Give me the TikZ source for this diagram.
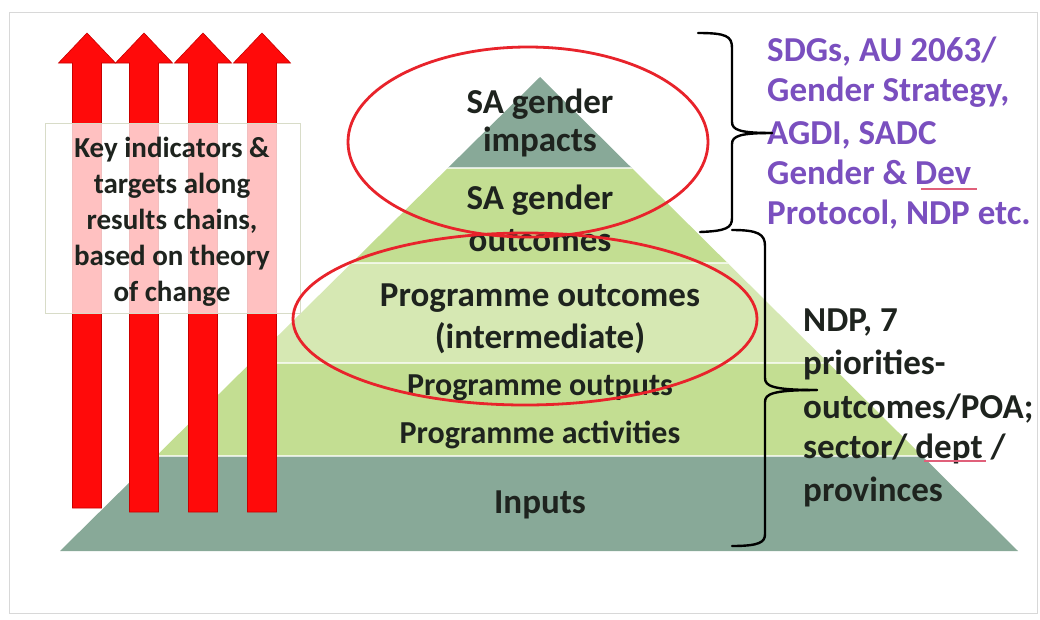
\documentclass[tikz,border=0pt]{standalone}
\usepackage{fontspec}
\setmainfont{Carlito}
\definecolor{darkg}{HTML}{88A998}
\definecolor{midg}{HTML}{C3DE92}
\definecolor{lightg}{HTML}{D6E8B3}
\definecolor{purp}{HTML}{7A4FBF}
\definecolor{arrowred}{HTML}{FF0A0A}
\definecolor{arrowedge}{HTML}{C80000}
\definecolor{ellred}{HTML}{E8232B}
\definecolor{txt}{HTML}{1E231E}
\definecolor{framec}{HTML}{D8D8D8}
\definecolor{boxedge}{HTML}{D8DCC8}
\definecolor{squig}{HTML}{E0607A}
\begin{document}
\begin{tikzpicture}[x=1pt,y=-1pt,
  pyr/.style={font=\bfseries\fontsize{35}{41}\selectfont, text=txt, inner sep=0, anchor=base},
  pyrs/.style={font=\bfseries\fontsize{32}{38}\selectfont, text=txt, inner sep=0, anchor=base},
  keyt/.style={font=\bfseries\fontsize{29}{36}\selectfont, text=txt, inner sep=0, anchor=base},
  purpt/.style={font=\bfseries\fontsize{35}{41}\selectfont, text=purp, inner sep=0, anchor=base west},
  blackt/.style={font=\bfseries\fontsize{35}{41}\selectfont, text=txt, inner sep=0, anchor=base west},
  upArrow/.style={fill=arrowred, draw=arrowedge, line width=0.6},
  ring/.style={draw=ellred, line width=2.8},
  bracket/.style={draw=black, line width=2.4, line cap=round},
  squiggle/.style={draw=squig, line width=1.2}]
\useasboundingbox (0,0) rectangle (1040,619);
\fill[white] (0,0) rectangle (1040,619);
\draw[framec, line width=1] (9,12) rectangle (1037,613);

% pyramid
\coordinate (apex) at (540,77);
\coordinate (bl) at (60,551);
\coordinate (br) at (1018,551);
\begin{scope}
\clip (apex) -- (br) -- (bl) -- cycle;
\fill[darkg] (0,60) rectangle (1040,168);
\fill[midg] (0,168) rectangle (1040,263);
\fill[lightg] (0,263) rectangle (1040,363);
\fill[midg] (0,363) rectangle (1040,456);
\fill[darkg] (0,456) rectangle (1040,552);
\draw[white, line width=1.2, opacity=0.7] (0,168) -- (1040,168) (0,263) -- (1040,263) (0,363) -- (1040,363) (0,456) -- (1040,456);
\end{scope}

% pyramid texts
\node[pyr] (imp1) at (540,113) {SA gender};
\node[pyr] (imp2) at (540,151) {impacts};
\node[pyr] (out1) at (540,209) {SA gender};
\node[pyr] (out2) at (540,251) {outcomes};
\node[pyr] (po1) at (540,306) {Programme outcomes};
\node[pyr] (po2) at (540,348) {(intermediate)};
\node[pyrs] (pout) at (540,395) {Programme outputs};
\node[pyrs] (pact) at (540,443) {Programme activities};
\node[pyr] (inp) at (540,513) {Inputs};

% red arrows
\foreach \c/\b in {87/508,144/512,203/512,262/512}{
  \filldraw[upArrow] (\c-14.5,\b) -- (\c-14.5,63) -- (\c-28.5,63) -- (\c,33) -- (\c+28.5,63) -- (\c+14.5,63) -- (\c+14.5,\b) -- cycle;
}

% key indicators box
\node[draw=boxedge, line width=0.8, fill=white, fill opacity=0.75, minimum width=255pt, minimum height=190pt, inner sep=0] (keybox) at (172.5,218) {};
\node[keyt] (k1) at (172,157) {Key indicators \&};
\node[keyt] (k2) at (172,193) {targets along};
\node[keyt] (k3) at (172,229) {results chains,};
\node[keyt] (k4) at (172,265) {based on theory};
\node[keyt] (k5) at (172,301) {of change};

% ellipses
\draw[ring] (528,142) ellipse [x radius=180pt, y radius=95pt];
\draw[ring] (525,319) ellipse [x radius=232pt, y radius=86pt];

% right texts
\node[purpt] (p1) at (767,61) {SDGs, AU 2063/};
\node[purpt] (p2) at (767,101) {Gender Strategy,};
\node[purpt] (p3) at (767,144) {AGDI, SADC};
\node[purpt] (p4) at (767,184) {Gender \& Dev};
\node[purpt] (p5) at (767,224) {Protocol, NDP etc.};
\node[blackt] (b1) at (803,331) {NDP, 7};
\node[blackt] (b2) at (803,374) {priorities-};
\node[blackt] (b3) at (803,418) {outcomes/POA;};
\node[blackt] (b4) at (803,458) {sector/ dept /};
\node[blackt] (b5) at (803,501) {provinces};

% spelling squiggles
\draw[squiggle] (921,189) -- (977,189);
\draw[squiggle] (924,461) -- (986,461);

% braces
\coordinate (t1) at (772,133);
\coordinate (t2) at (817,390);
\draw[bracket] (698,33) .. controls (726,33) and (732,36) .. (732,48) -- (732,122) .. controls (732,130) and (740,133) .. (t1);
\draw[bracket] (t1) .. controls (740,133) and (732,136) .. (732,144) -- (732,218) .. controls (732,228) and (726,231) .. (700,232);
\draw[bracket] (732,230) .. controls (758,230) and (765,234) .. (765,246) -- (765,378) .. controls (765,386) and (772,390) .. (t2);
\draw[bracket] (t2) .. controls (772,390) and (765,394) .. (765,402) -- (765,534) .. controls (765,542) and (760,546) .. (732,546);
\end{tikzpicture}
\end{document}
